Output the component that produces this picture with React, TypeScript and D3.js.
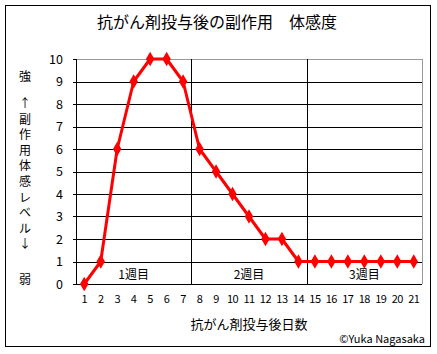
import React from "react";
import * as d3 from "d3";

const days = ["1","2","3","4","5","6","7","8","9","10","11","12","13","14","15","16","17","18","19","20","21"];
const levels = [0,1,6,9,10,10,9,6,5,4,3,2,2,1,1,1,1,1,1,1,1];
const yTicks = [0,1,2,3,4,5,6,7,8,9,10];
const weeks = ["1週目","2週目","3週目"];
const yTitleChars = ["↑","副","作","用","体","感","レ","ベ","ル","↓"];

const FONT = "'Noto Sans CJK JP', sans-serif";

export default function App() {
  const W = 437, H = 354;
  const left = 76, right = 422, top = 59, bottom = 284;
  const x = d3.scaleBand<string>().domain(days).range([left, right]);
  const y = d3.scaleLinear().domain([0, 10]).range([bottom, top]);
  const cx = (d: string) => (x(d) as number) + x.bandwidth() / 2;
  const line = d3.line<number>().x((_, i) => cx(days[i])).y((v) => y(v));
  const diamond = d3.symbol().type(d3.symbolDiamond).size(62)();
  const weekBounds = [0, 7, 14, 21].map((i) => left + i * x.step());

  return (
    <svg width={W} height={H} style={{ position: "absolute", left: 0, top: 0 }} fontFamily={FONT}>
      <rect x={0} y={0} width={W} height={H} fill="#fff" />
      <rect x={5.5} y={5.5} width={425} height={341} fill="#fff" stroke="#000" strokeWidth={1} />
      <text x={217} y={28} textAnchor="middle" fontSize={16} fill="#000">抗がん剤投与後の副作用　体感度</text>
      {yTicks.map((t) => (
        <g key={t}>
          <line x1={left} x2={right} y1={Math.round(y(t)) + 0.5} y2={Math.round(y(t)) + 0.5} stroke={t === 10 ? "#999" : "#000"} strokeWidth={1} />
          <line x1={left - 3} x2={left} y1={Math.round(y(t)) + 0.5} y2={Math.round(y(t)) + 0.5} stroke="#000" />
          <text x={63} y={y(t) + 4.5} textAnchor="end" fontSize={12.5} fill="#000">{t}</text>
        </g>
      ))}
      <line x1={right + 0.5} x2={right + 0.5} y1={top} y2={bottom} stroke="#999" />
      <line x1={left + 0.5} x2={left + 0.5} y1={top} y2={bottom + 1} stroke="#000" />
      {weekBounds.slice(1, 3).map((b, i) => (
        <line key={i} x1={Math.round(b) + 0.5} x2={Math.round(b) + 0.5} y1={top} y2={bottom} stroke="#000" />
      ))}
      {weeks.map((w, i) => (
        <text key={w} x={(weekBounds[i] + weekBounds[i + 1]) / 2} y={279} textAnchor="middle" fontSize={12} fill="#000">{w}</text>
      ))}
      {days.map((d) => (
        <text key={d} x={cx(d)} y={303} textAnchor="middle" fontSize={11} letterSpacing={-0.5} fill="#000">{d}</text>
      ))}
      <text x={(left + right) / 2} y={329} textAnchor="middle" fontSize={13} fill="#000">抗がん剤投与後日数</text>
      <text x={425} y={343} textAnchor="end" fontSize={11} fill="#000">©Yuka Nagasaka</text>
      <text x={25} y={81} textAnchor="middle" fontSize={12} fill="#000">強</text>
      {yTitleChars.map((c, i) => (
        <text key={i} x={25} y={108 + i * 15.6} textAnchor="middle" fontSize={12} fill="#000">{c}</text>
      ))}
      <text x={25} y={284} textAnchor="middle" fontSize={12} fill="#000">弱</text>
      <path d={line(levels) as string} fill="none" stroke="#ff0000" strokeWidth={3} strokeLinejoin="round" />
      {levels.map((v, i) => (
        <path key={i} d={diamond as string} transform={`translate(${cx(days[i])},${y(v)})`} fill="#ff0000" />
      ))}
    </svg>
  );
}
